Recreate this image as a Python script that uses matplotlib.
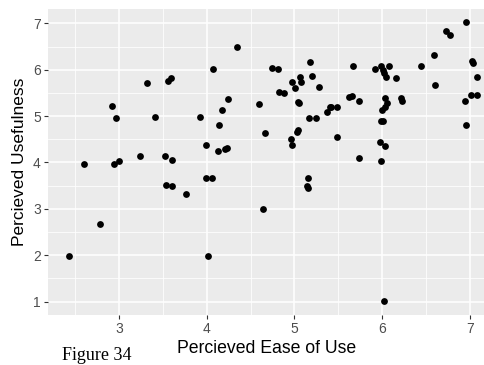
import matplotlib
matplotlib.use("Agg")
import matplotlib.pyplot as plt
import numpy as np

ease_of_use = [2.43, 2.60, 2.79, 2.92, 2.94, 2.97, 3.00, 3.24, 3.32, 3.41,
               3.53, 3.54, 3.555, 3.59, 3.60, 3.61, 3.77, 3.93, 3.99, 3.99,
               4.02, 4.06, 4.07, 4.13, 4.14, 4.17, 4.21, 4.23, 4.24, 4.35,
               4.60, 4.64, 4.67, 4.75, 4.81, 4.82, 4.88, 4.96, 4.97, 4.97,
               5.01, 5.03, 5.04, 5.04, 5.05, 5.06, 5.07, 5.14, 5.16, 5.16,
               5.17, 5.18, 5.20, 5.25, 5.28, 5.37, 5.40, 5.42, 5.48, 5.48,
               5.62, 5.66, 5.67, 5.73, 5.74, 5.92, 5.97, 5.98, 5.98, 5.99,
               6.00, 6.01, 6.01, 6.02, 6.02, 6.03, 6.03, 6.03, 6.04, 6.05,
               6.08, 6.16, 6.21, 6.22, 6.44, 6.59, 6.60, 6.73, 6.77, 6.94,
               6.95, 6.95, 7.01, 7.02, 7.03, 7.08, 7.08]
usefulness = [1.99, 3.96, 2.68, 5.22, 3.96, 4.95, 4.04, 4.13, 5.71, 4.97,
              4.13, 3.52, 5.75, 5.82, 3.50, 4.06, 3.33, 4.97, 4.37, 3.66,
              1.99, 3.66, 6.01, 4.24, 4.81, 5.14, 4.29, 4.32, 5.36, 6.48,
              5.25, 3.00, 4.64, 6.04, 6.01, 5.53, 5.49, 4.51, 4.37, 5.74,
              5.60, 4.66, 4.70, 5.30, 5.28, 5.85, 5.74, 3.50, 3.44, 3.66,
              4.95, 6.16, 5.87, 4.95, 5.63, 5.09, 5.20, 5.20, 5.20, 4.54,
              5.41, 5.43, 6.07, 5.33, 4.10, 6.01, 4.45, 4.89, 4.04, 6.07,
              5.13, 4.89, 5.99, 5.93, 1.01, 5.38, 5.20, 4.35, 5.84, 5.28,
              6.07, 5.82, 5.38, 5.32, 6.07, 6.31, 5.68, 6.83, 6.75, 5.33,
              7.02, 4.81, 5.46, 6.18, 6.15, 5.85, 5.46]

x_ticks = [3, 4, 5, 6, 7]
y_ticks = [1, 2, 3, 4, 5, 6, 7]

plt.rcParams['font.family'] = ['Liberation Sans', 'DejaVu Sans']

fig = plt.figure(figsize=(4.85, 3.65), dpi=100)
ax = fig.add_axes([47.7 / 485, (365 - 315) / 365, 1 - 47.7 / 485, (315 - 8.5) / 365])
ax.set_facecolor('#EBEBEB')
for s in ax.spines.values():
    s.set_visible(False)

ax.set_xlim(2.19, 7.17)
ax.set_ylim(0.71, 7.32)
ax.set_xticks(x_ticks)
ax.set_yticks(y_ticks)
ax.set_xticks(np.arange(2.5, 7.5, 1.0), minor=True)
ax.set_yticks(np.arange(1.5, 7.5, 1.0), minor=True)
ax.grid(which='major', color='white', linewidth=1.1)
ax.grid(which='minor', color='white', linewidth=0.55)
ax.set_axisbelow(True)
ax.tick_params(which='major', length=3, width=0.8, color='#333333',
               labelcolor='#4D4D4D', labelsize=10, pad=2)
ax.tick_params(which='minor', length=0)

ax.scatter(ease_of_use, usefulness, s=24, color='black', zorder=3, linewidths=0)

ax.set_xlabel('Percieved Ease of Use', fontsize=12.7, color='black', labelpad=3)
ax.set_ylabel('Percieved Usefulness', fontsize=12.5, color='black', labelpad=4)

fig.text(62 / 485, 1.5 / 365, 'Figure 34', family='Liberation Serif',
         fontsize=13, va='bottom', ha='left', zorder=0)

fig.savefig('out.png', dpi=100)
